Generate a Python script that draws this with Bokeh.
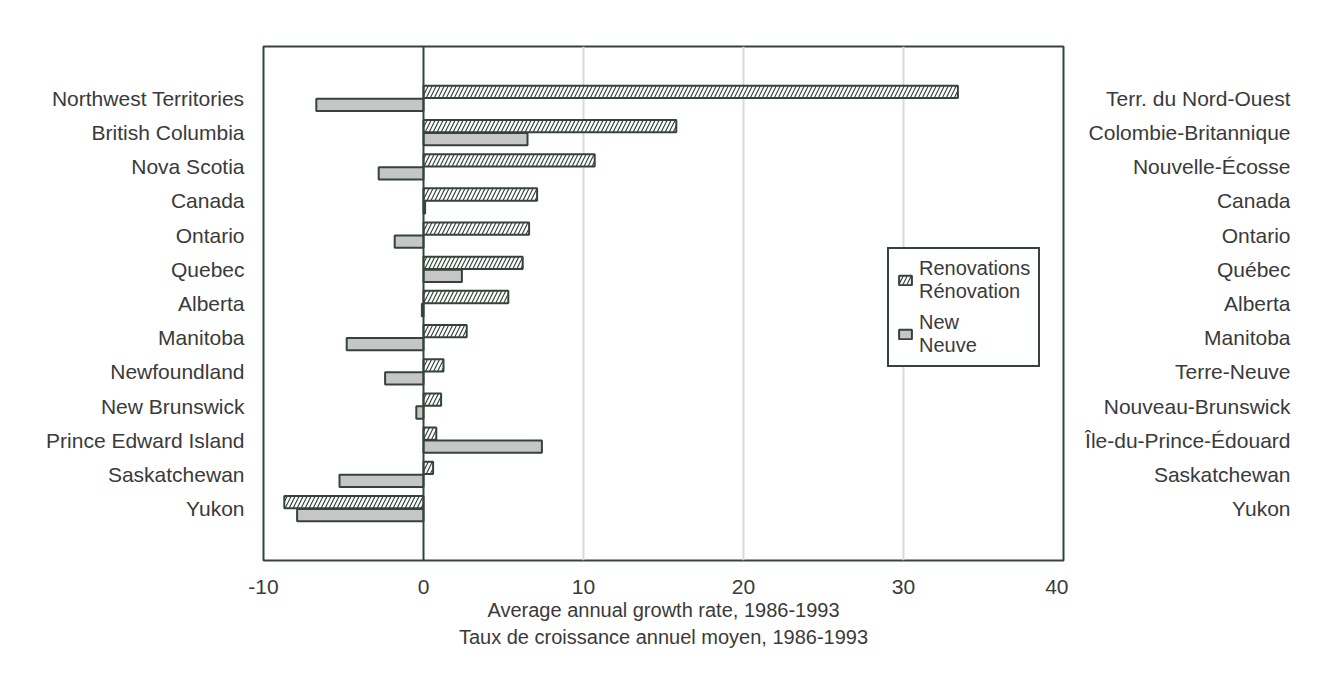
from bokeh.plotting import figure
from bokeh.models import (ColumnDataSource, FactorRange, Range1d, FixedTicker, Span,
                          Legend, LegendItem, Title)
from bokeh.transform import dodge
from bokeh.layouts import row
from bokeh.embed import file_html
from bokeh.resources import INLINE
from bokeh.core.properties import value

# ---------------- data ----------------
categories = ["Northwest Territories", "British Columbia", "Nova Scotia", "Canada",
              "Ontario", "Quebec", "Alberta", "Manitoba", "Newfoundland",
              "New Brunswick", "Prince Edward Island", "Saskatchewan", "Yukon"]
categories_fr = ["Terr. du Nord-Ouest", "Colombie-Britannique", "Nouvelle-Écosse", "Canada",
                 "Ontario", "Québec", "Alberta", "Manitoba", "Terre-Neuve",
                 "Nouveau-Brunswick", "Île-du-Prince-Édouard", "Saskatchewan", "Yukon"]
renovations = [33.4, 15.8, 10.7, 7.1, 6.6, 6.2, 5.3, 2.7, 1.25, 1.1, 0.8, 0.6, -8.7]
new = [-6.7, 6.5, -2.8, 0.1, -1.8, 2.4, -0.1, -4.8, -2.4, -0.45, 7.4, -5.25, -7.9]
series_labels = ["Renovations\nRénovation", "New\nNeuve"]
x_ticks = [-10, 0, 10, 20, 30, 40]
x_tick_labels = ["-10", "0", "10", "20", "30", "40"]
x_title_en = "Average annual growth rate, 1986-1993"
x_title_fr = "Taux de croissance annuel moyen, 1986-1993"

FONT = "Liberation Sans"
TXT = "#3a3a3a"
DARK = "#34443a"

src = ColumnDataSource(dict(cat=categories, fr=categories_fr, renov=renovations, new=new))

yr = FactorRange(factors=categories[::-1], range_padding=1.02, range_padding_units="absolute")

p = figure(width=1068, height=670, y_range=yr, x_range=Range1d(-10, 40),
           output_backend="svg", toolbar_location=None,
           min_border_left=263, min_border_right=5, min_border_top=46, min_border_bottom=110)
p.title.visible = False
p.background_fill_color = "white"
p.border_fill_color = "white"
p.outline_line_color = DARK
p.outline_line_width = 2

r1 = p.hbar(y=dodge("cat", 0.19, range=yr), left=0, right="renov", height=0.36, source=src,
            fill_color="white", line_color=DARK, line_width=2,
            hatch_pattern=value("/"), hatch_color=DARK, hatch_scale=8, hatch_weight=1.2)
r2 = p.hbar(y=dodge("cat", -0.19, range=yr), left=0, right="new", height=0.36, source=src,
            fill_color="#c6c6c6", line_color=DARK, line_width=2)

p.add_layout(Span(location=0, dimension="height", line_color=DARK, line_width=2))

# axes
p.xaxis.ticker = FixedTicker(ticks=x_ticks)
p.xaxis.major_label_overrides = dict(zip(x_ticks, x_tick_labels))
p.xaxis.axis_line_color = None
p.xaxis.major_tick_line_color = None
p.xaxis.minor_tick_line_color = None
p.xaxis.major_label_standoff = 13
p.xaxis.major_label_text_font = FONT
p.xaxis.major_label_text_font_size = "21px"
p.xaxis.major_label_text_color = TXT

p.yaxis.axis_line_color = None
p.yaxis.major_tick_line_color = None
p.yaxis.major_label_standoff = 13
p.yaxis.major_label_text_font = FONT
p.yaxis.major_label_text_font_size = "21px"
p.yaxis.major_label_text_color = TXT

p.ygrid.grid_line_color = None
p.xgrid.ticker = FixedTicker(ticks=[10, 20, 30])
p.xgrid.grid_line_color = "#d9d9d9"
p.xgrid.grid_line_width = 2

for t, so in ((x_title_en, 0), (x_title_fr, 7)):
    p.add_layout(Title(text=t, align="center", text_font=FONT, text_font_size="20px",
                       text_font_style="normal", text_color=TXT, standoff=so), "below")

legend = Legend(items=[LegendItem(label=series_labels[0], renderers=[r1]),
                       LegendItem(label=series_labels[1], renderers=[r2])],
                location=(624, 193), margin=0, padding=8, spacing=8,
                glyph_width=16, glyph_height=12, label_standoff=6,
                label_text_font=FONT, label_text_font_size="20px", label_text_color=TXT,
                label_text_line_height=1.45,
                border_line_color=DARK, border_line_width=2, border_line_alpha=1,
                background_fill_alpha=1, background_fill_color="white")
p.add_layout(legend)

# right-side French labels
p2 = figure(width=230, height=670, y_range=yr, x_range=Range1d(0, 1),
            output_backend="svg", toolbar_location=None,
            x_axis_location=None, y_axis_location=None,
            min_border_left=0, min_border_right=8, min_border_top=46, min_border_bottom=110)
p2.title.visible = False
p2.outline_line_color = None
p2.grid.visible = False
p2.text(x=1, y="cat", text="fr", source=src, text_align="right", text_baseline="middle",
        text_font=value(FONT), text_font_size="21px", text_color=TXT)

layout = row(p, p2)
open("out.html", "w").write(file_html(layout, INLINE))
